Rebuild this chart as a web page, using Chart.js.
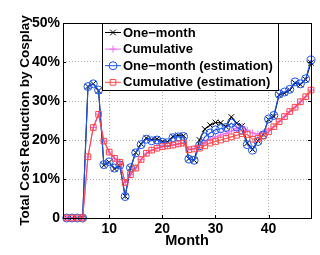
<!DOCTYPE html>
<html>
<head>
<meta charset="utf-8">
<script src="https://cdn.jsdelivr.net/npm/chart.js@4/dist/chart.umd.min.js"></script>
<style>
  html, body { margin: 0; padding: 0; background: #fff; }
</style>
</head>
<body>
<canvas id="chart" width="320" height="255"></canvas>
<script>
// months on the x axis (month 1 sits just outside the plotted range)
const months = [2, 3, 4, 5, 6, 7, 8, 9, 10, 11, 12, 13, 14, 15, 16, 17, 18, 19, 20, 21, 22, 23, 24,
  25, 26, 27, 28, 29, 30, 31, 32, 33, 34, 35, 36, 37, 38, 39, 40, 41, 42, 43, 44, 45, 46, 47, 48];

// cost reduction in %
const oneMonth = [0, 0, 0, 0, 33.7, 34.4, 32.6, 13.5, 14.3, 12.6, 13.4, 5.6, 12.8, 16.8, 19.0, 20.5, 20.1, 20.3,
  19.6, 19.5, 20.9, 21.2, 21.1, 15.2, 14.8, 20.0, 22.8, 23.8, 24.5, 24.4, 23.4, 25.9, 24.3, 23.6, 19.2, 17.6,
  19.8, 21.4, 25.3, 26.0, 31.6, 32.0, 32.8, 34.6, 34.2, 35.5, 39.8];
const cumulative = [0, 0, 0, 0, 15.7, 23.2, 26.6, 19.7, 16.9, 15.3, 14.3, 9.1, 11.1, 12.8, 15.0, 16.6, 17.4, 17.9,
  18.3, 18.5, 18.7, 19.0, 19.2, 17.6, 17.8, 18.5, 19.4, 20.2, 20.8, 21.3, 21.7, 22.3, 23.0, 23.5, 22.5, 21.8,
  21.5, 21.8, 22.4, 23.4, 24.7, 26.0, 27.3, 28.4, 29.8, 31.1, 32.8];
const oneMonthEst = [0, 0, 0, 0, 33.7, 34.4, 32.8, 13.7, 14.4, 12.8, 13.6, 5.5, 12.9, 16.7, 18.8, 20.2, 19.8, 20.0,
  19.4, 19.3, 20.6, 20.8, 20.9, 15.1, 14.8, 18.5, 20.8, 21.8, 22.6, 22.9, 23.2, 24.3, 23.3, 22.5, 18.8, 17.4,
  19.6, 21.3, 25.4, 26.3, 31.8, 32.3, 33.0, 34.9, 34.4, 35.7, 40.5];
const cumulativeEst = [0, 0, 0, 0, 15.7, 23.2, 26.6, 19.7, 16.9, 15.3, 14.3, 9.1, 11.1, 12.8, 15.0, 16.6, 17.4, 17.9,
  18.3, 18.5, 18.7, 19.0, 19.2, 17.5, 17.7, 17.9, 18.5, 19.2, 19.6, 20.0, 20.4, 20.8, 21.2, 21.6, 21.4, 20.2,
  20.4, 21.0, 22.1, 23.4, 24.7, 26.0, 27.3, 28.4, 29.8, 31.1, 32.8];

const xTicks = [10, 20, 30, 40];
const yTicks = [0, 10, 20, 30, 40, 50];
const seriesNames = ['One\u2212month', 'Cumulative', 'One\u2212month (estimation)', 'Cumulative (estimation)'];

const FONT = "'Liberation Sans', Arial, Helvetica, sans-serif";
const BLUE = '#1a55f0';
const RED = '#ff4848';
const PINK = '#f070f0';

function points(values) {
  return months.map((m, i) => ({ x: m, y: values[i] }));
}

function drawMarker(ctx, style, x, y, r, color) {
  ctx.save();
  ctx.strokeStyle = color;
  ctx.lineWidth = 1;
  ctx.beginPath();
  if (style === 'circle') {
    ctx.arc(x, y, r, 0, Math.PI * 2);
  } else if (style === 'rect') {
    const s = r * Math.SQRT1_2;
    ctx.rect(x - s, y - s, s * 2, s * 2);
  } else if (style === 'cross') {
    ctx.moveTo(x - r, y); ctx.lineTo(x + r, y);
    ctx.moveTo(x, y - r); ctx.lineTo(x, y + r);
  } else {
    const d = r * Math.SQRT1_2;
    ctx.moveTo(x - d, y - d); ctx.lineTo(x + d, y + d);
    ctx.moveTo(x - d, y + d); ctx.lineTo(x + d, y - d);
  }
  ctx.stroke();
  ctx.restore();
}

// box round the plot with inward ticks, then the legend inside the plot
const boxAndLegend = {
  id: 'boxAndLegend',
  afterDatasetsDraw(chart) {
    const ctx = chart.ctx;
    const a = chart.chartArea;
    const xs = chart.scales.x, ys = chart.scales.y;
    ctx.save();
    ctx.strokeStyle = '#000';
    ctx.lineWidth = 1;
    ctx.strokeRect(Math.round(a.left) + 0.5, Math.round(a.top) + 0.5,
      Math.round(a.right - a.left), Math.round(a.bottom - a.top));
    ctx.beginPath();
    xTicks.forEach(v => {
      const px = Math.round(xs.getPixelForValue(v)) + 0.5;
      ctx.moveTo(px, a.bottom); ctx.lineTo(px, a.bottom - 3);
      ctx.moveTo(px, a.top); ctx.lineTo(px, a.top + 3);
    });
    yTicks.forEach(v => {
      const py = Math.round(ys.getPixelForValue(v)) + 0.5;
      ctx.moveTo(a.left, py); ctx.lineTo(a.left + 3, py);
      ctx.moveTo(a.right, py); ctx.lineTo(a.right - 3, py);
    });
    ctx.stroke();

    // legend
    const lx = 102, ly = Math.round(a.top), lw = 176, lh = 67;
    ctx.fillStyle = '#fff';
    ctx.fillRect(lx, ly, lw, lh);
    ctx.strokeRect(lx + 0.5, ly + 0.5, lw, lh);
    ctx.font = 'bold 13px ' + FONT;
    ctx.textBaseline = 'middle';
    ctx.textAlign = 'left';
    chart.data.datasets.forEach((ds, i) => {
      const yy = ly + 9.5 + i * 16.6;
      ctx.strokeStyle = ds.borderColor;
      ctx.lineWidth = 1;
      ctx.beginPath();
      ctx.moveTo(105, yy); ctx.lineTo(121, yy);
      ctx.stroke();
      drawMarker(ctx, ds.pointStyle, 113, yy, ds.pointRadius, ds.borderColor);
      ctx.fillStyle = '#000';
      ctx.fillText(seriesNames[i], 123, yy + 0.5);
    });
    ctx.restore();
  }
};

const tickFont = { family: FONT, size: 14, weight: 'bold' };

new Chart(document.getElementById('chart'), {
  type: 'line',
  data: {
    datasets: [
      { label: seriesNames[0], data: points(oneMonth), borderColor: '#000', pointStyle: 'crossRot',
        pointRadius: 4, order: 4 },
      { label: seriesNames[1], data: points(cumulative), borderColor: PINK, pointStyle: 'cross',
        pointRadius: 3.5, order: 3 },
      { label: seriesNames[2], data: points(oneMonthEst), borderColor: BLUE, pointStyle: 'circle',
        pointRadius: 4, order: 2 },
      { label: seriesNames[3], data: points(cumulativeEst), borderColor: RED, pointStyle: 'rect',
        pointRadius: 4, order: 1 }
    ].map(ds => Object.assign(ds, {
      borderWidth: 1.1,
      pointBorderWidth: 1,
      pointBorderColor: ds.borderColor,
      pointBackgroundColor: 'rgba(0,0,0,0)',
      fill: false,
      tension: 0,
      clip: false
    }))
  },
  options: {
    responsive: false,
    animation: false,
    events: [],
    layout: { padding: { left: 13, right: 9, top: 23, bottom: 2 } },
    plugins: { legend: { display: false }, tooltip: { enabled: false } },
    scales: {
      x: {
        type: 'linear',
        min: 1.3,
        max: 48,
        afterBuildTicks: s => { s.ticks = xTicks.map(v => ({ value: v })); },
        afterFit: s => { s.height = 35; },
        grid: { color: '#b4b4b4', lineWidth: 1, drawTicks: false },
        border: { display: false, dash: [1, 2] },
        ticks: { font: tickFont, color: '#000', padding: 3, maxRotation: 0, autoSkip: false },
        title: { display: true, text: 'Month', color: '#000',
          font: { family: FONT, size: 14.5, weight: 'bold' }, padding: { top: 0, bottom: 3 } }
      },
      y: {
        min: 0,
        max: 50,
        afterBuildTicks: s => { s.ticks = yTicks.map(v => ({ value: v })); },
        afterFit: s => { s.width = 50; },
        grid: { color: '#b4b4b4', lineWidth: 1, drawTicks: false },
        border: { display: false, dash: [1, 2] },
        ticks: { font: tickFont, color: '#000', padding: 3,
          callback: v => v === 0 ? '0' : v + '%' },
        title: { display: true, text: 'Total Cost Reduction by Cosplay', color: '#000',
          font: { family: FONT, size: 13.5, weight: 'bold' }, padding: { top: 4, bottom: 0 } }
      }
    }
  },
  plugins: [boxAndLegend]
});
</script>
</body>
</html>
